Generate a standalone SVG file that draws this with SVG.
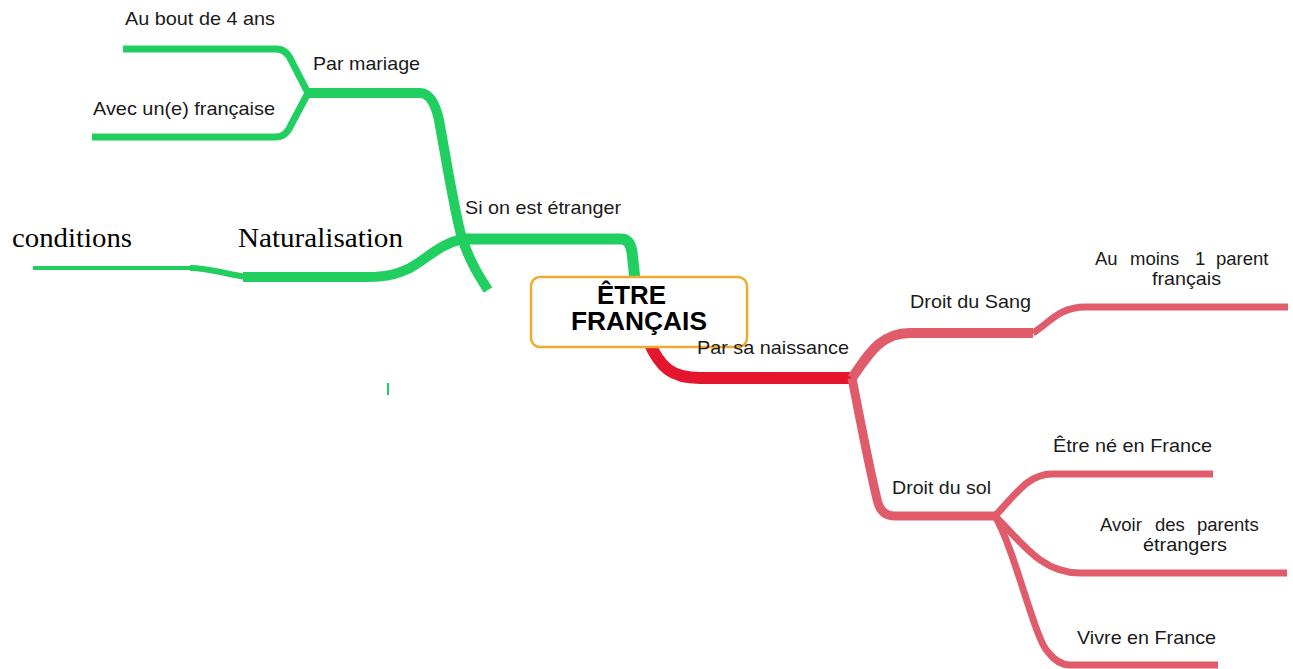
<svg xmlns="http://www.w3.org/2000/svg" width="1293" height="669" viewBox="0 0 1293 669">
<style>
.g{fill:none;stroke:#21cf60;stroke-linejoin:round}
.r{fill:none;stroke:#e3162d}
.p{fill:none;stroke:#e05c6b}
.t{font-family:"Liberation Sans",Arial,sans-serif;font-size:18.5px;fill:#1a1a1a}
.s{font-family:"Liberation Serif","Times New Roman",serif;font-size:28px;fill:#000}
.b{font-family:"Liberation Sans",Arial,sans-serif;font-size:25px;font-weight:bold;fill:#000}
</style>
<rect width="1293" height="669" fill="#fff"/>
<g id="connectors">
  <path class="g" stroke-width="7" d="M123 49 L276 49 Q286 49 291 60 L308 93"/>
  <path class="g" stroke-width="7" d="M92 137 L276 137 Q286 137 291 125 L308 93"/>
  <path class="g" stroke-width="10" d="M308 93 L420 93 Q433 93 439 120 C448 170 455 215 462 238 C470 262 479 276 488 290"/>
  <path class="g" stroke-width="11" d="M462 239 L621 239 Q630 239 632 252 L635 280"/>
  <path class="g" stroke-width="10" d="M462 239 C440 244 425 260 410 268 C395 275 385 277 367 277 L243 277"/>
  <path class="g" stroke-width="6" d="M246 277 C225 274 210 268 190 268"/>
  <path class="g" stroke-width="4" d="M195 268 L33 268"/>
  <path class="g" stroke-width="2" d="M388 383 L388 395"/>
  <path class="r" stroke-width="12" d="M648 340 C660 368 672 378 700 378 L852 378"/>
  <path class="p" stroke-width="10" d="M852 378 C868 355 880 333 910 333 L1033 333"/>
  <path class="p" stroke-width="7" d="M1033 333 C1050 322 1060 307 1085 307 L1288 307"/>
  <path class="p" stroke-width="9" d="M852 378 C862 430 872 480 878 503 Q882 516 895 516 L997 516"/>
  <path class="p" stroke-width="7" d="M995 516 C1015 495 1028 474 1052 474 L1213 474"/>
  <path class="p" stroke-width="7" d="M995 516 C1020 540 1040 573 1080 573 L1287 573"/>
  <path class="p" stroke-width="7" d="M995 516 C1015 550 1035 640 1048 652 Q1058 665 1070 665 L1218 665"/>
</g>
<g id="root">
  <rect x="531" y="277" width="216" height="70" rx="9" fill="#fff" stroke="#f0aa2e" stroke-width="2.5"/>
  <text class="b" x="597" y="304" textLength="69" lengthAdjust="spacingAndGlyphs">ÊTRE</text>
  <text class="b" x="571" y="330" textLength="136" lengthAdjust="spacingAndGlyphs">FRANÇAIS</text>
</g>
<g id="n-etranger"><text class="t" x="465" y="214" textLength="156" lengthAdjust="spacingAndGlyphs">Si on est étranger</text></g>
<g id="n-mariage"><text class="t" x="313" y="70" textLength="107" lengthAdjust="spacingAndGlyphs">Par mariage</text></g>
<g id="n-4ans"><text class="t" x="125" y="25" textLength="150" lengthAdjust="spacingAndGlyphs">Au bout de 4 ans</text></g>
<g id="n-avec"><text class="t" x="93" y="115" textLength="182" lengthAdjust="spacingAndGlyphs">Avec un(e) française</text></g>
<g id="n-natur"><text class="s" x="238" y="247" textLength="165" lengthAdjust="spacingAndGlyphs">Naturalisation</text></g>
<g id="n-cond"><text class="s" x="12" y="247" textLength="120" lengthAdjust="spacingAndGlyphs">conditions</text></g>
<g id="n-naissance"><text class="t" x="697" y="354" textLength="152" lengthAdjust="spacingAndGlyphs">Par sa naissance</text></g>
<g id="n-sang"><text class="t" x="910" y="308" textLength="121" lengthAdjust="spacingAndGlyphs">Droit du Sang</text></g>
<g id="n-parent">
  <text class="t" y="265"><tspan x="1095">Au</tspan><tspan x="1130">moins</tspan><tspan x="1195">1</tspan><tspan x="1216">parent</tspan></text>
  <text class="t" x="1152" y="285" textLength="69" lengthAdjust="spacingAndGlyphs">français</text>
</g>
<g id="n-sol"><text class="t" x="892" y="494" textLength="99" lengthAdjust="spacingAndGlyphs">Droit du sol</text></g>
<g id="n-ne"><text class="t" x="1053" y="452" textLength="159" lengthAdjust="spacingAndGlyphs">Être né en France</text></g>
<g id="n-parents-etr">
  <text class="t" y="531"><tspan x="1100">Avoir</tspan><tspan x="1155">des</tspan><tspan x="1197">parents</tspan></text>
  <text class="t" x="1143" y="551" textLength="84" lengthAdjust="spacingAndGlyphs">étrangers</text>
</g>
<g id="n-vivre"><text class="t" x="1077" y="644" textLength="139" lengthAdjust="spacingAndGlyphs">Vivre en France</text></g>
</svg>
